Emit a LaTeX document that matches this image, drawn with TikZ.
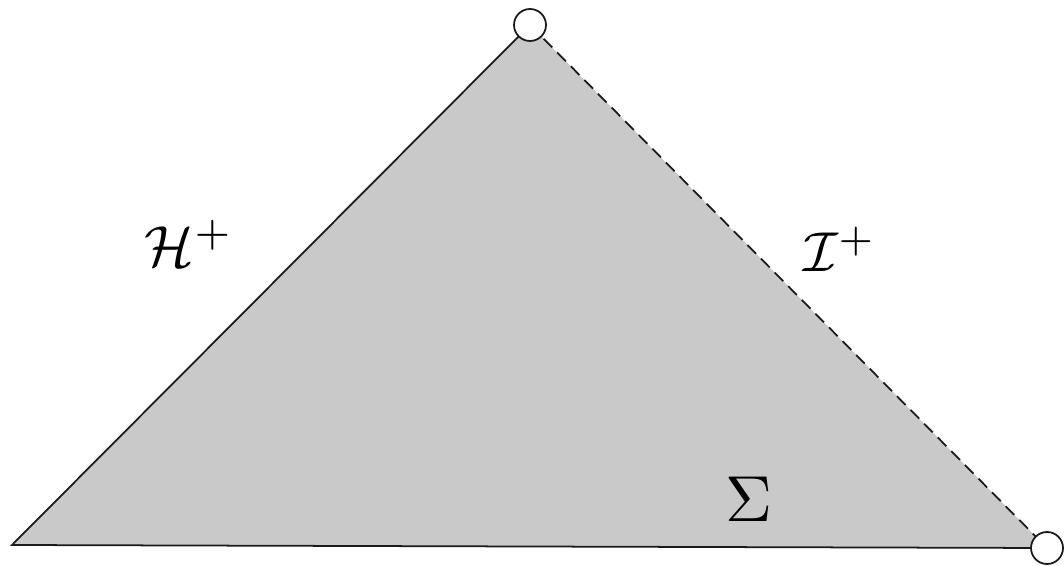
\documentclass[tikz,border=0pt]{standalone}
\usepackage{tikz}
\usetikzlibrary{positioning,calc}
\usepackage{graphicx}
\usepackage{xcolor}
\usepackage{amsmath}
\definecolor{regiongray}{HTML}{C9C9C9}
\definecolor{edgeblack}{HTML}{1A1A1A}
\newcommand{\biglabel}[2]{\scalebox{#1}{$#2$}}

\begin{document}
\begin{tikzpicture}
\useasboundingbox (0,0) rectangle (21.28,11.32);
\coordinate (bl) at (0.24,0.42);
\coordinate (top) at (10.6,10.82);
\coordinate (br) at (20.94,0.36);
\fill[regiongray] (bl)--(top)--(br)--cycle;
\draw[edgeblack,line width=1pt] (top)--(bl)--(br);
\draw[edgeblack,line width=1pt,dash pattern=on 7pt off 4pt] (top)--(br);
\node[draw=edgeblack,line width=1pt,fill=white,circle,inner sep=0pt,minimum size=0.64cm] (ip) at (top) {};
\node[draw=edgeblack,line width=1pt,fill=white,circle,inner sep=0pt,minimum size=0.64cm] (io) at (br) {};
\node (hplus) at (3.78,6.46) {\biglabel{3.3}{\mathcal{H}^+}};
\node (scriplus) at (16.8,6.33) {\biglabel{3.2}{\mathcal{I}^+}};
\node (sigma) at (14.98,1.34) {\biglabel{3.7}{\Sigma}};
\end{tikzpicture}
\end{document}
